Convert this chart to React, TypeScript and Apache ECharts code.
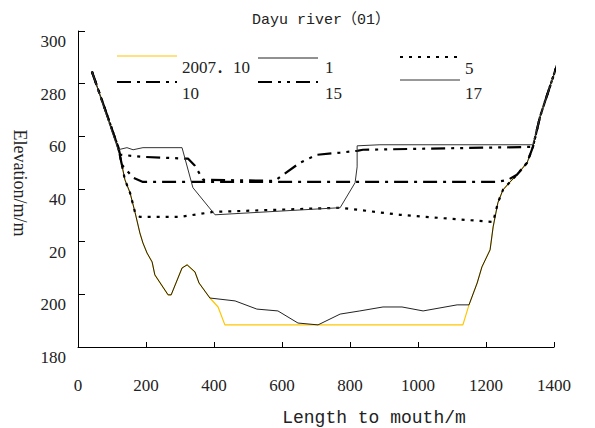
import React, { useEffect, useRef } from 'react';
import * as echarts from 'echarts';

// Series data: [length to mouth (m), elevation (m)]
const s2007 = [[41,284.6],[118,256.0],[138,243.5],[153,238.6],[168,231.0],[182,223.3],[191,219.5],[203,215.7],[218,212.3],[226,207.4],[265,199.8],[274,199.8],[306,210.0],[321,211.2],[344,208.5],[356,204.3],[388,198.6],[412,195.2],[432,188.4],[1132,188.4],[1150,196.0],[1174,204.3],[1188,210.4],[1212,216.9],[1221,225.6],[1235,234.8],[1250,239.7],[1271,242.7],[1291,245.4],[1321,250.0],[1338,256.0],[1359,267.5],[1388,278.9],[1414,289.1]];
const s1 = [[41,284.6],[118,256.0],[138,243.5],[153,238.6],[168,231.0],[182,223.3],[191,219.5],[203,215.7],[218,212.3],[226,207.4],[265,199.8],[274,199.8],[306,210.0],[321,211.2],[344,208.5],[356,204.3],[388,198.6],[462,197.5],[526,194.4],[588,193.7],[647,189.1],[706,188.4],[771,192.5],[829,193.7],[897,195.2],[953,195.2],[1015,193.7],[1115,196.0],[1150,196.0],[1174,204.3],[1188,210.4],[1212,216.9],[1221,225.6],[1235,234.8],[1250,239.7],[1271,242.7],[1291,245.4],[1321,250.0],[1338,256.0],[1359,267.5],[1388,278.9],[1414,289.1]];
const s5 = [[41,284.6],[118,256.0],[138,243.5],[153,238.6],[168,231.0],[182,229.4],[300,229.4],[397,231.3],[771,232.9],[947,230.2],[1065,229.0],[1221,227.5],[1235,234.8],[1250,239.7],[1271,242.7],[1291,245.4],[1321,250.0],[1338,256.0],[1359,267.5],[1388,278.9],[1414,289.1]];
const s10 = [[41,284.6],[118,256.0],[129,249.2],[162,244.3],[191,242.7],[1232,242.7],[1265,243.5],[1291,245.4],[1321,250.0],[1338,256.0],[1359,267.5],[1388,278.9],[1414,289.1]];
const s15 = [[41,284.6],[118,256.0],[124,253.0],[191,252.2],[324,251.5],[344,248.8],[368,243.5],[579,243.1],[653,250.0],[703,253.0],[771,253.8],[821,254.5],[838,254.9],[1338,256.0],[1359,267.5],[1388,278.9],[1414,289.1]];
const s17 = [[41,284.6],[118,254.9],[144,255.7],[162,254.9],[191,255.7],[306,255.7],[338,240.5],[403,230.2],[771,232.9],[815,242.4],[821,248.4],[821,256.4],[888,256.8],[1338,256.8],[1359,267.5],[1388,278.9],[1414,289.1]];

const seriesNames = ['2007．10', '1', '5', '10', '15', '17'];
const yTickValues = [180, 200, 220, 240, 260, 280, 300];
const yTickLabels = ['180', '200', '20', '40', '60', '280', '300'];

const SERIF = '"Liberation Serif", "Noto Sans CJK SC", serif';
const MONO = '"Liberation Mono", "Noto Sans CJK SC", monospace';

const styles = [
  { color: '#FFC600', width: 1.2, type: 'solid' as any },
  { color: '#222', width: 1, type: 'solid' as any },
  { color: '#000', width: 2.2, type: [3, 6] as any },
  { color: '#000', width: 2.2, type: [14, 6, 3, 6] as any },
  { color: '#000', width: 2.2, type: [14, 6, 3, 6, 3, 6] as any },
  { color: '#333', width: 1, type: 'solid' as any },
];
const seriesData = [s2007, s1, s5, s10, s15, s17];

export default function App() {
  const ref = useRef<HTMLDivElement>(null);
  useEffect(() => {
    const chart = echarts.init(ref.current as HTMLDivElement, null, { renderer: 'svg' });
    const legendPos = [
      { lx: 117, ly: 56, tx: 182, ty: 67 },
      { lx: 258, ly: 58, tx: 325, ty: 67 },
      { lx: 400, ly: 57, tx: 465, ty: 68 },
      { lx: 117, ly: 82, tx: 182, ty: 93 },
      { lx: 258, ly: 82, tx: 325, ty: 93 },
      { lx: 400, ly: 80, tx: 465, ty: 93 },
    ];
    const legendGraphics: any[] = [];
    seriesNames.forEach((n, i) => {
      const p = legendPos[i];
      const st = styles[i];
      legendGraphics.push({
        type: 'line',
        shape: { x1: p.lx, y1: p.ly, x2: p.lx + 60, y2: p.ly },
        style: {
          stroke: st.color,
          lineWidth: st.width,
          lineDash: Array.isArray(st.type) ? st.type : null,
        },
      });
      legendGraphics.push({
        type: 'text',
        x: p.tx,
        y: p.ty,
        style: {
          text: n,
          font: `17px ${SERIF}`,
          fill: '#222',
          textAlign: 'left',
          textVerticalAlign: 'middle',
        },
      });
    });

    const option: any = {
      animation: false,
      backgroundColor: '#fff',
      grid: { left: 78, right: 41, top: 31, bottom: 81, containLabel: false },
      xAxis: {
        type: 'value',
        min: 0,
        max: 1400,
        interval: 200,
        axisLine: { show: true, lineStyle: { color: '#000', width: 1 } },
        axisTick: { show: true, inside: true, length: 5, lineStyle: { color: '#000' } },
        axisLabel: {
          margin: 30,
          fontSize: 17,
          fontFamily: SERIF,
          color: '#222',
          formatter: (v: number) => String(v),
        },
        splitLine: { show: false },
      },
      yAxis: {
        type: 'value',
        min: 180,
        max: 300,
        interval: 20,
        axisLine: { show: true, lineStyle: { color: '#000', width: 1 } },
        axisTick: { show: true, inside: true, length: 7, lineStyle: { color: '#000' } },
        axisLabel: {
          margin: 12,
          fontSize: 17,
          fontFamily: SERIF,
          color: '#222',
          verticalAlign: 'top',
          padding: [2, 0, 0, 0],
          formatter: (v: number) => {
            const idx = yTickValues.indexOf(v);
            return idx >= 0 ? yTickLabels[idx] : String(v);
          },
        },
        splitLine: { show: false },
      },
      graphic: [
        {
          type: 'text',
          x: 321,
          y: 20,
          style: { text: 'Dayu river（01）', font: `15px ${MONO}`, fill: '#222', textAlign: 'center', textVerticalAlign: 'middle' },
        },
        {
          type: 'text',
          x: 374,
          y: 418,
          style: { text: 'Length to mouth/m', font: `18px ${MONO}`, fill: '#222', textAlign: 'center', textVerticalAlign: 'middle' },
        },
        {
          type: 'text',
          x: 20,
          y: 183,
          rotation: -Math.PI / 2,
          style: { text: 'Elevation/m/m', font: `18px ${SERIF}`, fill: '#222', textAlign: 'center', textVerticalAlign: 'middle' },
        },
        ...legendGraphics,
      ],
      series: seriesData.map((d, i) => ({
        name: seriesNames[i],
        type: 'line',
        data: d,
        showSymbol: false,
        symbol: 'none',
        clip: false,
        z: i === 0 ? 1 : 2 + i,
        lineStyle: { color: styles[i].color, width: styles[i].width, type: styles[i].type },
      })),
    };
    chart.setOption(option);
    return () => chart.dispose();
  }, []);
  return <div ref={ref} style={{ position: 'fixed', left: 0, top: 0, width: 595, height: 428 }} />;
}
